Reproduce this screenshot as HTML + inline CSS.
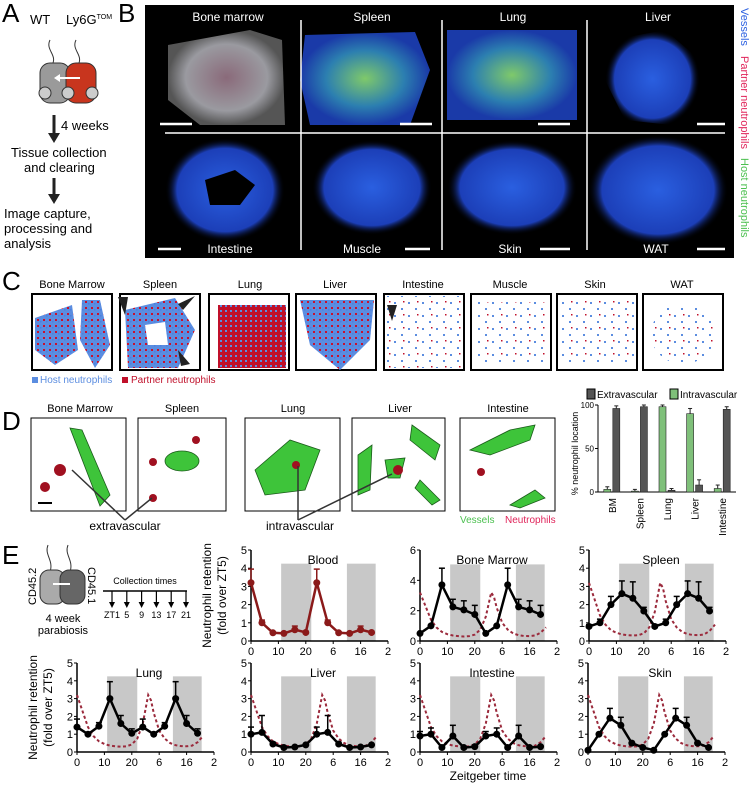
<!DOCTYPE html>
<html><head><meta charset="utf-8">
<style>
body{margin:0;background:#fff;}
svg{display:block;font-family:"Liberation Sans",Arial,sans-serif;}
</style></head>
<body>
<svg id="fig" width="752" height="785" viewBox="0 0 752 785" xmlns="http://www.w3.org/2000/svg">
<defs>
  <pattern id="dotsMix" width="6" height="6" patternUnits="userSpaceOnUse">
    <rect width="6" height="6" fill="#5b8de0"/>
    <rect x="1" y="1" width="2" height="2" fill="#c8102e"/>
    <rect x="4" y="3" width="1.5" height="1.5" fill="#4a7fe0"/>
  </pattern>
  <pattern id="dotsRed" width="5" height="5" patternUnits="userSpaceOnUse">
    <rect width="5" height="5" fill="#c0102a"/>
    <rect x="0" y="0" width="2" height="2" fill="#5b8de0"/>
  </pattern>
  <pattern id="dotsSparse" width="14" height="13" patternUnits="userSpaceOnUse">
    <rect x="2" y="3" width="2" height="2" fill="#5b8de0"/>
    <rect x="9" y="9" width="2" height="2" fill="#5b8de0"/>
    <rect x="11" y="2" width="1.5" height="1.5" fill="#c0102a"/>
  </pattern>
  <radialGradient id="blueTissue"><stop offset="0" stop-color="#2a5fe0"/><stop offset="0.8" stop-color="#1c3fb8"/><stop offset="1" stop-color="#000" stop-opacity="0"/></radialGradient>
  <radialGradient id="greenTissue"><stop offset="0" stop-color="#7fc96a"/><stop offset="0.6" stop-color="#2c7fb0"/><stop offset="1" stop-color="#1a3aa8"/></radialGradient>
  <radialGradient id="bmTissue"><stop offset="0" stop-color="#8a6a7a"/><stop offset="0.7" stop-color="#9a9aa0"/><stop offset="1" stop-color="#555"/></radialGradient>
</defs>

<!-- PANEL A -->
<g>
  <text x="2" y="22" font-size="26">A</text>
  <text x="30" y="24" font-size="13">WT</text>
  <text x="66" y="24" font-size="13">Ly6G<tspan font-size="7" dy="-5">TOM</tspan></text>
  <path d="M50 40 C45 50,58 55,52 65" stroke="#333" fill="none"/>
  <path d="M76 40 C71 50,84 55,78 65" stroke="#333" fill="none"/>
  <rect x="40" y="63" width="30" height="40" rx="10" fill="#9a9a9a" stroke="#333"/>
  <rect x="66" y="63" width="30" height="40" rx="10" fill="#c8351e" stroke="#333"/>
  <circle cx="45" cy="93" r="6" fill="#ccc" stroke="#333"/><circle cx="68" cy="93" r="6" fill="#ccc" stroke="#333"/>
  <circle cx="92" cy="93" r="6" fill="#ccc" stroke="#333"/>
  <line x1="80" y1="78" x2="57" y2="78" stroke="#fff" stroke-width="2"/><path d="M54 78 l6 -4 v8z" fill="#fff"/>
  <line x1="54" y1="115" x2="54" y2="135" stroke="#222" stroke-width="3"/><path d="M48 133 h12 l-6 10z" fill="#222"/>
  <text x="61" y="130" font-size="13">4 weeks</text>
  <text x="11" y="157" font-size="13">Tissue collection</text>
  <text x="24" y="172" font-size="13">and clearing</text>
  <line x1="54" y1="178" x2="54" y2="196" stroke="#222" stroke-width="3"/><path d="M48 194 h12 l-6 10z" fill="#222"/>
  <text x="4" y="218" font-size="13">Image capture,</text>
  <text x="4" y="233" font-size="13">processing and</text>
  <text x="4" y="248" font-size="13">analysis</text>
</g>

<!-- PANEL B -->
<g>
  <text x="118" y="22" font-size="26">B</text>
  <rect x="145" y="5" width="589" height="253" fill="#000"/>
  <path d="M168 45 L250 30 L282 40 L285 125 L200 125 L168 100Z" fill="url(#bmTissue)"/>
  <path d="M305 35 L415 32 L430 70 L410 125 L310 125 L300 80Z" fill="url(#greenTissue)"/>
  <rect x="447" y="30" width="130" height="90" fill="url(#greenTissue)"/>
  <path d="M612 40 L665 30 L700 60 L700 128 L625 120 L605 80Z" fill="url(#blueTissue)"/>
  <ellipse cx="225" cy="190" rx="60" ry="52" fill="url(#blueTissue)"/>
  <path d="M205 180 L235 170 L255 185 L240 205 L210 205Z" fill="#000"/>
  <rect x="312" y="140" width="120" height="95" fill="url(#blueTissue)"/>
  <rect x="447" y="140" width="130" height="95" fill="url(#blueTissue)"/>
  <ellipse cx="658" cy="190" rx="70" ry="55" fill="url(#blueTissue)"/>
  <line x1="301" y1="20" x2="301" y2="250" stroke="#fff" stroke-width="1.5"/>
  <line x1="442" y1="20" x2="442" y2="250" stroke="#fff" stroke-width="1.5"/>
  <line x1="587" y1="20" x2="587" y2="250" stroke="#fff" stroke-width="1.5"/>
  <line x1="165" y1="133" x2="725" y2="133" stroke="#fff" stroke-width="1.5"/>
  <g fill="#fff" font-size="12" text-anchor="middle">
    <text x="228" y="21">Bone marrow</text>
    <text x="372" y="21">Spleen</text>
    <text x="513" y="21">Lung</text>
    <text x="658" y="21">Liver</text>
    <text x="230" y="253">Intestine</text>
    <text x="362" y="253">Muscle</text>
    <text x="510" y="253">Skin</text>
    <text x="656" y="253">WAT</text>
  </g>
  <g stroke="#fff" stroke-width="2.5">
    <line x1="160" y1="124" x2="192" y2="124"/><line x1="400" y1="124" x2="432" y2="124"/>
    <line x1="538" y1="124" x2="570" y2="124"/><line x1="697" y1="124" x2="725" y2="124"/>
    <line x1="158" y1="249" x2="181" y2="249"/><line x1="405" y1="249" x2="430" y2="249"/>
    <line x1="540" y1="249" x2="570" y2="249"/><line x1="697" y1="249" x2="725" y2="249"/>
  </g>
  <g font-size="11" transform="translate(741,8) rotate(90)">
    <text x="0" y="0" fill="#2a5fe0">Vessels</text>
    <text x="48" y="0" fill="#e0245a">Partner neutrophils</text>
    <text x="150" y="0" fill="#4cc050">Host neutrophils</text>
  </g>
</g>

<!-- PANEL C -->
<g id="panelC">
  <text x="2" y="290" font-size="26">C</text>
  <g font-size="11" text-anchor="middle">
    <text x="72" y="288">Bone Marrow</text><text x="160" y="288">Spleen</text>
    <text x="250" y="288">Lung</text><text x="335" y="288">Liver</text>
    <text x="423" y="288">Intestine</text><text x="510" y="288">Muscle</text>
    <text x="595" y="288">Skin</text><text x="682" y="288">WAT</text>
  </g>
  <g stroke="#000" stroke-width="2" fill="#fff">
    <rect x="32" y="294" width="80" height="76"/><rect x="120" y="294" width="80" height="76"/>
    <rect x="209" y="294" width="80" height="76"/><rect x="296" y="294" width="80" height="76"/>
    <rect x="384" y="294" width="80" height="76"/><rect x="471" y="294" width="80" height="76"/>
    <rect x="557" y="294" width="80" height="76"/><rect x="643" y="294" width="80" height="76"/>
  </g>
  <path d="M35 318 L72 305 L78 350 L55 365 L35 350Z M82 300 L100 300 L110 345 L95 368 L80 340Z" fill="url(#dotsMix)"/>
  <path d="M125 310 L175 298 L195 330 L178 368 L128 368Z M145 325 L165 322 L168 345 L148 345Z" fill="url(#dotsMix)" fill-rule="evenodd"/>
  <rect x="218" y="305" width="68" height="63" fill="url(#dotsRed)"/>
  <path d="M300 300 L374 300 L370 340 L340 370 L310 345Z" fill="url(#dotsMix)"/>
  <rect x="386" y="296" width="76" height="72" fill="url(#dotsSparse)"/>
  <rect x="478" y="302" width="68" height="62" fill="url(#dotsSparse)"/>
  <rect x="560" y="298" width="74" height="68" fill="url(#dotsSparse)"/>
  <ellipse cx="683" cy="334" rx="32" ry="30" fill="url(#dotsSparse)"/>
  <g fill="#222">
    <path d="M118 297 l10 0 l-3 18z"/><path d="M195 296 l-12 14 l-5 -6z"/><path d="M178 350 l12 14 l-9 2z"/><path d="M387 305 l10 0 l-5 16z"/>
  </g>
  <rect x="32" y="377" width="6" height="6" fill="#5b8de0"/>
  <text x="40" y="383" font-size="10" fill="#5b8de0">Host neutrophils</text>
  <rect x="122" y="377" width="6" height="6" fill="#c0102a"/>
  <text x="131" y="383" font-size="10" fill="#c0102a">Partner neutrophils</text>
</g>

<!-- PANEL D -->
<g>
  <text x="2" y="430" font-size="26">D</text>
  <g font-size="11" text-anchor="middle">
    <text x="80" y="412">Bone Marrow</text><text x="182" y="412">Spleen</text>
    <text x="293" y="412">Lung</text><text x="400" y="412">Liver</text><text x="508" y="412">Intestine</text>
  </g>
  <g stroke="#000" fill="#fff">
    <rect x="31" y="418" width="95" height="93"/><rect x="138" y="418" width="88" height="93"/>
    <rect x="245" y="418" width="95" height="93"/><rect x="352" y="418" width="93" height="93"/>
    <rect x="460" y="418" width="95" height="93"/>
  </g>
  <g fill="#3ec43a" stroke="#1a5a1a" stroke-width="0.8">
    <path d="M70 428 L82 430 L110 495 L100 506 Z"/>
    <ellipse cx="182" cy="461" rx="17" ry="10"/>
    <path d="M255 470 L290 440 L320 450 L305 490 L265 495Z"/>
    <path d="M358 455 L372 445 L370 490 L358 495Z"/><path d="M412 425 L440 445 L435 460 L410 440Z"/>
    <path d="M385 460 L405 458 L400 478 L388 478Z"/><path d="M420 480 L440 500 L432 505 L415 488Z"/>
    <path d="M470 450 L510 430 L535 425 L530 440 L490 455Z"/><path d="M510 505 L535 490 L545 498 L520 508Z"/>
  </g>
  <g fill="#a01020">
    <circle cx="45" cy="487" r="5"/><circle cx="60" cy="470" r="6"/>
    <circle cx="153" cy="462" r="4"/><circle cx="196" cy="440" r="4"/><circle cx="153" cy="498" r="4"/>
    <circle cx="296" cy="465" r="4"/><circle cx="398" cy="470" r="5"/><circle cx="481" cy="472" r="4"/>
  </g>
  <line x1="38" y1="503" x2="52" y2="503" stroke="#000" stroke-width="2"/>
  <g stroke="#333" stroke-width="1.5" fill="none">
    <line x1="125" y1="520" x2="72" y2="470"/><line x1="125" y1="520" x2="152" y2="498"/>
    <line x1="298" y1="520" x2="298" y2="466"/><line x1="298" y1="520" x2="392" y2="474"/>
  </g>
  <text x="125" y="530" font-size="12" text-anchor="middle">extravascular</text>
  <text x="300" y="530" font-size="12" text-anchor="middle">intravascular</text>
  <text x="460" y="523" font-size="10" fill="#4cc050">Vessels</text>
  <text x="505" y="523" font-size="10" fill="#e0245a">Neutrophils</text>
  <g id="barChart"></g>
</g>

<!-- PANEL E -->
<g>
  <text x="2" y="564" font-size="26">E</text>
  <path d="M48 545 C44 555,54 560,50 572" stroke="#333" fill="none"/><path d="M68 545 C64 555,74 560,70 572" stroke="#333" fill="none"/>
  <rect x="40" y="570" width="25" height="34" rx="9" fill="#aaa" stroke="#333"/>
  <rect x="60" y="570" width="25" height="34" rx="9" fill="#666" stroke="#333"/>
  <line x1="53" y1="584" x2="70" y2="584" stroke="#fff" stroke-width="2"/>
  <text transform="translate(36,605) rotate(-90)" font-size="11">CD45.2</text>
  <text transform="translate(88,567) rotate(90)" font-size="11">CD45.1</text>
  <text x="63" y="622" font-size="11" text-anchor="middle">4 week</text>
  <text x="63" y="634" font-size="11" text-anchor="middle">parabiosis</text>
  <text x="145" y="584" font-size="9" text-anchor="middle">Collection times</text>
  <line x1="103" y1="591" x2="187" y2="591" stroke="#000" stroke-width="1.5"/>
  <g id="collArrows"></g>
  <g id="chartsE"></g>
  <text x="488" y="780" font-size="12" text-anchor="middle">Zeitgeber time</text>
</g>
</svg>

<script>
const NS = "http://www.w3.org/2000/svg";
// ---- Panel D bar chart data ----
const barCategories = ["BM","Spleen","Lung","Liver","Intestine"];
const intravascularValues = [3,1,98,90,4];
const intravascularErrors = [3,2,2,6,4];
const extravascularValues = [96,98,2,8,95];
const extravascularErrors = [3,2,2,6,3];
const barTicks = [0,50,100];

// ---- Panel E data ----
const zeitTicks = [0,10,20,30,40,50];
const zeitTickLabels = ["0","10","20","6","16","2"];
const sampleTimes = [0,4,8,12,16,20,24,28,32,36,40,44];
const collectionLabels = ["ZT1","5","9","13","17","21"];
const darkPhases = [[11,22],[35,45.5]];
const dashT = [0,2,4,6,8,10,12,14,16,18,20,22,24,25,26,27,28,30,32,34,36,38,40,42,44,46];
const dashV = [3.2,2.3,1.4,0.9,0.6,0.45,0.36,0.32,0.3,0.32,0.42,0.75,1.6,2.4,3.2,2.9,2.2,1.2,0.75,0.5,0.38,0.33,0.32,0.36,0.55,0.9];
const bloodValues = [3.2,1.0,0.45,0.42,0.62,0.47,3.2,1.0,0.45,0.42,0.62,0.47];
const bloodErrors = [0.75,0.15,0.05,0.05,0.2,0.05,0.75,0.15,0.05,0.05,0.2,0.05];
const bmValues = [0.5,1.0,3.7,2.25,2.05,1.75,0.5,1.0,3.7,2.25,2.05,1.75];
const bmErrors = [0,0,1.1,0.5,0.6,0.6,0,0,1.1,0.5,0.6,0.6];
const spleenValues = [0.8,1.0,2.0,2.6,2.35,1.65,0.8,1.0,2.0,2.6,2.35,1.65];
const spleenErrors = [0.1,0.2,0.45,0.7,0.9,0.2,0.1,0.2,0.45,0.7,0.9,0.2];
const lungValues = [1.4,1.0,1.45,3.0,1.6,1.05,1.4,1.0,1.45,3.0,1.6,1.05];
const lungErrors = [0.45,0,0.2,0.95,0.45,0.25,0.45,0,0.2,0.95,0.45,0.25];
const liverValues = [1.0,1.1,0.45,0.25,0.28,0.4,1.0,1.1,0.45,0.25,0.28,0.4];
const liverErrors = [0.4,0.95,0.1,0,0,0,0.4,0.95,0.1,0,0,0];
const intestineValues = [0.9,1.0,0.25,0.9,0.25,0.3,0.9,1.0,0.25,0.9,0.25,0.3];
const intestineErrors = [0.25,0.35,0,0.6,0,0,0.25,0.35,0,0.6,0,0];
const skinValues = [0.1,1.0,1.9,1.5,0.5,0.25,0.1,1.0,1.9,1.5,0.5,0.25];
const skinErrors = [0,0,0.55,0.45,0,0,0,0,0.55,0.45,0,0];

function mk(tag, attrs, parent){
  const e = document.createElementNS(NS, tag);
  for (const k in attrs) e.setAttribute(k, attrs[k]);
  parent.appendChild(e);
  return e;
}

// Collection arrows
const arr = document.getElementById('collArrows');
collectionLabels.forEach((lab,i)=>{
  const x = 112 + i*14.8;
  const l = mk('line',{x1:x,y1:591,x2:x,y2:604,stroke:'#000','stroke-width':1.2},arr);
  
  
  mk('path',{d:`M${x-3} 602 h6 l-3 6z`,fill:'#000'},arr);
  const t = mk('text',{x:x,y:618,'font-size':9,'text-anchor':'middle'},arr);
  t.textContent = lab;
  
  
});

// Bar chart
(function(){
  const g = document.getElementById('barChart');
  const X0=598, X1=736, Y0=492, Y100=405;
  const y = v => Y0 - (v/100)*(Y0-Y100);
  const band = (X1-X0)/barCategories.length;
  mk('line',{x1:X0,y1:Y0,x2:X1,y2:Y0,stroke:'#000'},g);
  mk('line',{x1:X0,y1:Y0,x2:X0,y2:Y100,stroke:'#000'},g);
  barTicks.forEach(t=>{
    mk('line',{x1:X0-3,y1:y(t),x2:X0,y2:y(t),stroke:'#000'},g);
    const tx = mk('text',{x:X0-4,y:y(t)+3,'font-size':8,'text-anchor':'end'},g);
    tx.textContent=t;
    
    
  });
  const yt = mk('text',{transform:`translate(${X0-20},${(Y0+Y100)/2+5}) rotate(-90)`,'font-size':9,'text-anchor':'middle'},g);
  yt.textContent='% neutrophil location';
  
  
  barCategories.forEach((c,i)=>{
    const cx = X0 + band*(i+0.5);
    [[intravascularValues,intravascularErrors,'#7fc07a',-1],[extravascularValues,extravascularErrors,'#555',1]].forEach(([vals,errs,col,s])=>{
      const bx = cx + (s<0?-8:1);
      const r = mk('rect',{x:bx,y:y(vals[i]),width:7,height:Y0-y(vals[i]),fill:col,stroke:'#222','stroke-width':0.6},g);
      
      
      const ey = y(vals[i]+errs[i]);
      mk('line',{x1:bx+3.5,y1:y(vals[i]),x2:bx+3.5,y2:ey,stroke:'#222'},g);
      mk('line',{x1:bx+1.5,y1:ey,x2:bx+5.5,y2:ey,stroke:'#222'},g);
    });
    const lt = mk('text',{transform:`translate(${cx+4},${Y0+6}) rotate(-90)`,'font-size':10,'text-anchor':'end'},g);
    lt.textContent=c;
    
    
  });
  mk('rect',{x:587,y:389,width:8,height:10,fill:'#555',stroke:'#000'},g);
  const l1 = mk('text',{x:597,y:398,'font-size':10},g); l1.textContent='Extravascular';
  
  
  mk('rect',{x:670,y:389,width:8,height:10,fill:'#7fc07a',stroke:'#000'},g);
  const l2 = mk('text',{x:680,y:398,'font-size':10},g); l2.textContent='Intravascular';
  
  
})();

// Panel E charts
const chartsE = document.getElementById('chartsE');
function retentionChart(cfg){
  const g = mk('g',{},chartsE);
  
  
  const {x0, yZero, yTop, ymax, ticks} = cfg;
  const span = 137;
  const x = t => x0 + t/50*span;
  const y = v => yZero - v/ymax*(yZero-yTop);
  const grayTop = y(ymax===6?5.05:4.25);
  darkPhases.forEach(([a,b])=>{
    const r = mk('rect',{x:x(a),y:grayTop,width:x(b)-x(a),height:yZero-grayTop,fill:'#c8c8c8'},g);
    
    
  });
  mk('line',{x1:x0,y1:yZero,x2:x0+span,y2:yZero,stroke:'#000','stroke-width':1.5},g);
  mk('line',{x1:x0,y1:yZero,x2:x0,y2:yTop,stroke:'#000','stroke-width':1.5},g);
  ticks.forEach(t=>{
    mk('line',{x1:x0-3,y1:y(t),x2:x0,y2:y(t),stroke:'#000'},g);
    const tx = mk('text',{x:x0-4,y:y(t)+4,'font-size':11,'text-anchor':'end'},g);
    tx.textContent=t;
    
    
  });
  zeitTicks.forEach((t,i)=>{
    mk('line',{x1:x(t),y1:yZero,x2:x(t),y2:yZero+3,stroke:'#000'},g);
    const tx = mk('text',{x:x(t),y:yZero+14,'font-size':11,'text-anchor':'middle'},g);
    tx.textContent=zeitTickLabels[i];
    
    
  });
  const tt = mk('text',{x:x0+72,y:yTop+14,'font-size':12,'text-anchor':'middle'},g);
  tt.textContent = cfg.title;
  
  
  if (cfg.dashed){
    const d = dashT.map((t,i)=>(i?'L':'M')+x(t).toFixed(1)+' '+y(dashV[i]).toFixed(1)).join(' ');
    const p = mk('path',{d:d,fill:'none',stroke:'#9b2a3c','stroke-width':2,'stroke-dasharray':'3 2.5'},g);
    
    
  }
  const col = cfg.color;
  cfg.values.forEach((v,i)=>{
    if(cfg.errors[i]>0){
      const ey = y(v+cfg.errors[i]);
      mk('line',{x1:x(sampleTimes[i]),y1:y(v),x2:x(sampleTimes[i]),y2:ey,stroke:col,'stroke-width':1.5},g);
      mk('line',{x1:x(sampleTimes[i])-3,y1:ey,x2:x(sampleTimes[i])+3,y2:ey,stroke:col,'stroke-width':1.5},g);
    }
  });
  const d = cfg.values.map((v,i)=>(i?'L':'M')+x(sampleTimes[i]).toFixed(1)+' '+y(v).toFixed(1)).join(' ');
  const ln = mk('path',{d:d,fill:'none',stroke:col,'stroke-width':2.5,'stroke-linejoin':'round'},g);
  
  
  cfg.values.forEach((v,i)=>{
    const c = mk('circle',{cx:x(sampleTimes[i]),cy:y(v),r:3.5,fill:col},g);
    
    
  });
  if (cfg.ytitle){
    const a = mk('text',{transform:`translate(${x0-40},${(yZero+yTop)/2}) rotate(-90)`,'font-size':12,'text-anchor':'middle'},g);
    a.textContent='Neutrophil retention';
    
    
    const b = mk('text',{transform:`translate(${x0-25},${(yZero+yTop)/2}) rotate(-90)`,'font-size':12,'text-anchor':'middle'},g);
    b.textContent='(fold over ZT5)';
  }
}
const T5=[0,1,2,3,4,5];
retentionChart({name:'blood-chart',title:'Blood',x0:251,yZero:641,yTop:550,ymax:5,ticks:T5,values:bloodValues,errors:bloodErrors,color:'#8b1a1a',dashed:false,ytitle:true});
retentionChart({name:'bone-marrow-chart',title:'Bone Marrow',x0:420,yZero:641,yTop:550,ymax:6,ticks:[0,2,4,6],values:bmValues,errors:bmErrors,color:'#000',dashed:true});
retentionChart({name:'spleen-chart',title:'Spleen',x0:589,yZero:641,yTop:550,ymax:5,ticks:T5,values:spleenValues,errors:spleenErrors,color:'#000',dashed:true});
retentionChart({name:'lung-chart',title:'Lung',x0:77,yZero:752,yTop:663,ymax:5,ticks:T5,values:lungValues,errors:lungErrors,color:'#000',dashed:true,ytitle:true});
retentionChart({name:'liver-chart',title:'Liver',x0:251,yZero:752,yTop:663,ymax:5,ticks:T5,values:liverValues,errors:liverErrors,color:'#000',dashed:true});
retentionChart({name:'intestine-chart',title:'Intestine',x0:420,yZero:752,yTop:663,ymax:5,ticks:T5,values:intestineValues,errors:intestineErrors,color:'#000',dashed:true});
retentionChart({name:'skin-chart',title:'Skin',x0:588,yZero:752,yTop:663,ymax:5,ticks:T5,values:skinValues,errors:skinErrors,color:'#000',dashed:true});
</script>
</body></html>
